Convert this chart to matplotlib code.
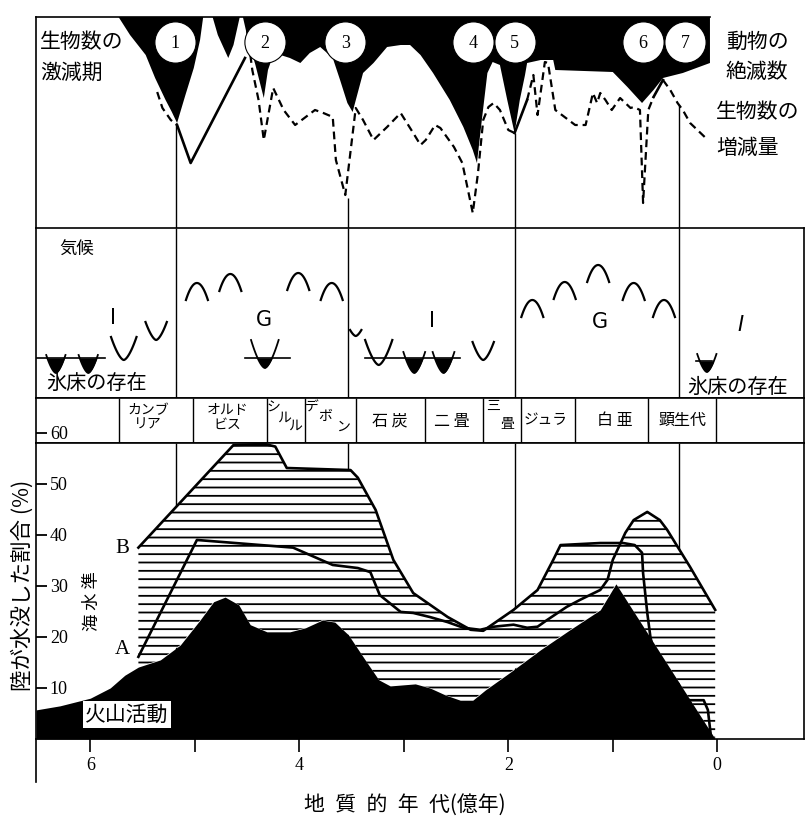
import numpy as np
import matplotlib.pyplot as plt

plt.rcParams['font.family'] = ['Noto Sans CJK JP', 'DejaVu Sans']
plt.rcParams['hatch.linewidth'] = 1.3
plt.rcParams['hatch.color'] = 'black'
SERIF = ['Liberation Serif', 'DejaVu Serif']

# ─── データ ───────────────────────────────────────────────────────────────
# 横軸は地質年代 (億年前)
X_LEFT, X_RIGHT = 6.52, -0.83

# 上段: 動物の絶滅数 (上から垂れ下がる黒い部分, 縦は 0-211 の相対値)
ext_age = [5.73, 5.62, 5.47, 5.38, 5.28, 5.22, 5.17, 5.09, 5.01, 4.95, 4.92,
           4.83, 4.78, 4.68, 4.63, 4.57, 4.54, 4.49, 4.42, 4.34, 4.30, 4.26,
           4.18, 4.09, 3.99, 3.90, 3.80, 3.68, 3.61, 3.54, 3.49, 3.39, 3.29,
           3.16, 3.03, 2.94, 2.84, 2.72, 2.56, 2.43, 2.34, 2.30, 2.25, 2.20,
           2.15, 2.08, 2.01, 1.94, 1.89, 1.84, 1.82, 1.69, 1.57, 1.55, 1.00,
           0.86, 0.72, 0.61, 0.52, 0.33, 0.07, 0.07]
ext_level = [211, 193, 173, 150, 128, 116, 105, 133, 160, 188, 211,
             211, 193, 170, 183, 211, 211, 188, 163, 130, 158, 170,
             173, 170, 165, 175, 181, 170, 148, 125, 116, 155, 165,
             181, 183, 183, 173, 155, 128, 101, 78, 65, 111, 155,
             166, 163, 128, 95, 128, 153, 165, 168, 168, 158, 156,
             141, 125, 138, 150, 155, 165, 211]

# 生物数の激減期 1-7
event_age = [5.19, 4.33, 3.56, 2.34, 1.94, 0.71, 0.31]
event_no = ['1', '2', '3', '4', '5', '6', '7']

# 生物数の増減量 (破線部と実線部)
dash1_age = [5.36, 5.31, 5.23, 5.17]
dash1_lv = [136, 120, 108, 103]
solid1_age = [5.17, 5.04, 4.52]
solid1_lv = [103, 65, 170]
dash2_age = [4.50, 4.45, 4.39, 4.34, 4.25, 4.15, 4.04, 3.85, 3.77, 3.68,
             3.65, 3.56, 3.46, 3.39, 3.29, 3.16, 3.03, 2.91, 2.84, 2.79,
             2.70, 2.65, 2.52, 2.44, 2.34, 2.29, 2.24, 2.19, 2.14, 2.08,
             2.00, 1.94]
dash2_lv = [198, 158, 128, 88, 140, 118, 103, 118, 115, 111,
            68, 33, 120, 108, 88, 101, 115, 95, 83, 88,
            103, 100, 81, 65, 15, 55, 108, 121, 125, 118,
            98, 95]
solid2_age = [1.94, 1.82]
solid2_lv = [95, 128]
dash3_age = [1.82, 1.76, 1.72, 1.65, 1.62, 1.55, 1.36, 1.26, 1.19, 1.15,
             1.12, 1.07, 1.01, 0.93, 0.83, 0.80, 0.74, 0.71, 0.66, 0.61]
dash3_lv = [128, 153, 113, 166, 165, 118, 103, 103, 135, 125,
            135, 128, 118, 130, 120, 121, 118, 25, 118, 131]
solid3_age = [0.61, 0.52]
solid3_lv = [131, 148]
dash4_age = [0.52, 0.45, 0.38, 0.33, 0.26, 0.12]
dash4_lv = [148, 138, 125, 118, 105, 91]

# 時代の境界を示す縦線
guide_age = [5.18, 3.53, 1.94, 0.37]
guide_top = [105, 30, 95, 123]

# 中段: 気候 (温暖 ∩ / 寒冷 U)
warm_age = [4.98, 4.66, 4.01, 3.69, 1.77, 1.46, 1.14, 0.80, 0.51]
warm_top = [115, 124, 125, 115, 98, 116, 133, 115, 98]
cold_age = [5.68, 5.37, 3.46, 3.24, 2.24]
cold_top = [61, 76, 68, 58, 56]
cold_bottom = [38, 58, 62, 33, 38]
regime_age = [5.78, 4.34, 2.73, 1.12, -0.22]
regime_lv = [80, 78, 77, 76, 73]
regime = ['I', 'G', 'I', 'G', 'I']

# 氷床の存在
ice_line_from = [6.51, 4.52, 3.37, 0.20]
ice_line_to = [5.86, 4.09, 2.46, 0.05]
ice_line_lv = [40, 40, 40, 37]
ice_age = [6.33, 6.02, 4.33, 2.90, 2.62, 0.10]
ice_top = [43, 43, 58, 46, 46, 44]
ice_bottom = [25, 25, 30, 25, 25, 26]
ice_ref = [40, 40, 40, 40, 40, 37]

# 地質時代区分
period_bounds = [5.73, 5.02, 4.31, 3.95, 3.46, 2.80, 2.24, 1.88, 1.36, 0.66, 0.01]

# 下段: 陸が水没した割合 (%)
volc_age = [6.52, 6.29, 6.00, 5.81, 5.67, 5.54, 5.33, 5.14, 4.95, 4.82,
            4.71, 4.58, 4.47, 4.31, 4.09, 3.94, 3.78, 3.66, 3.53, 3.37,
            3.24, 3.13, 2.89, 2.75, 2.60, 2.46, 2.34, 2.22, 1.98, 1.69,
            1.41, 1.12, 0.97, 0.02]
volc_pct = [5.7, 6.5, 8.0, 10.0, 12.5, 14.1, 15.5, 18.4, 23.3, 26.9,
            27.8, 26.3, 22.4, 21.0, 21.0, 21.8, 23.3, 22.9, 20.4, 15.5,
            11.6, 10.4, 10.8, 10.0, 8.6, 7.6, 7.6, 9.6, 13.1, 17.5,
            21.4, 25.3, 30.4, 0.0]
a_age = [5.54, 4.98, 4.06, 3.68, 3.44, 3.32, 3.23, 3.03, 2.91, 2.75,
         2.58, 2.43, 2.27, 2.14, 1.95, 1.82, 1.72, 1.63, 1.44, 1.31,
         1.12, 1.05, 1.00, 0.88, 0.80, 0.67, 0.55, 0.48, 0.26, 0.02]
a_pct = [16.1, 39.0, 37.5, 34.1, 33.5, 32.7, 28.2, 24.9, 24.7, 23.9,
         22.9, 21.8, 21.4, 22.0, 22.4, 21.8, 22.0, 23.3, 25.9, 27.3,
         29.2, 31.2, 35.1, 40.4, 42.9, 44.5, 42.9, 41.0, 33.7, 25.3]
b_age = [5.54, 4.63, 4.33, 4.23, 4.12, 3.51, 3.44, 3.27, 3.10, 2.91,
         2.58, 2.36, 2.24, 1.95, 1.72, 1.57, 1.50, 1.12, 0.90, 0.79,
         0.72, 0.71, 0.67, 0.64, 0.55, 0.43, 0.26, 0.13, 0.09, 0.06]
b_pct = [37.5, 57.6, 57.8, 57.3, 53.1, 52.7, 51.2, 44.9, 35.1, 28.6,
         23.9, 21.4, 21.2, 25.3, 29.2, 35.1, 38.0, 38.4, 38.4, 38.0,
         36.5, 32.5, 24.7, 20.0, 11.6, 8.2, 7.6, 7.6, 5.7, 0.4]
BOT_TOP = 58.0

# ─── レイアウト ───────────────────────────────────────────────────────────
W, H = 807, 818
fig = plt.figure(figsize=(W / 100, H / 100), dpi=100)


def add_panel(top, bottom):
    return fig.add_axes([36 / W, 1 - bottom / H, (804 - 36) / W, (bottom - top) / H])


ax_top = add_panel(17, 228)
ax_mid = add_panel(228, 398)
ax_per = add_panel(398, 443)
ax_bot = add_panel(443, 739)

for ax in (ax_top, ax_mid, ax_per, ax_bot):
    ax.set_xlim(X_LEFT, X_RIGHT)
    for sp in ax.spines.values():
        sp.set_linewidth(1.2)
    ax.tick_params(bottom=False, labelbottom=False, left=False, labelleft=False)

LW = 1.6
JP = dict(fontsize=15, color='black')

# ─── 上段 ─────────────────────────────────────────────────────────────────
ax_top.set_ylim(0, 211)
ax_top.spines['top'].set_visible(False)
ax_top.spines['right'].set_visible(False)
ax_top.spines['bottom'].set_visible(False)
ax_top.plot([X_LEFT, ext_age[-1]], [211, 211], color='black', lw=1.2, clip_on=False)
ax_top.fill(ext_age, ext_level, color='black', lw=0, zorder=3)
ax_top.vlines(guide_age, 0, guide_top, color='black', lw=1.0, zorder=1)

dash = (0, (3.5, 2.2))
for ag, lv in [(dash1_age, dash1_lv), (dash2_age, dash2_lv),
               (dash3_age, dash3_lv), (dash4_age, dash4_lv)]:
    ax_top.plot(ag, lv, color='black', lw=LW, ls=dash, zorder=2)
for ag, lv in [(solid1_age, solid1_lv), (solid2_age, solid2_lv), (solid3_age, solid3_lv)]:
    ax_top.plot(ag, lv, color='black', lw=LW + 0.3, zorder=2)

ax_top.scatter(event_age, [186] * len(event_age), s=880, facecolor='white',
               edgecolor='black', lw=0.8, zorder=5)
for ag, no in zip(event_age, event_no):
    ax_top.text(ag, 185, no, ha='center', va='center', fontsize=13,
                family=SERIF, zorder=6)

ax_top.text(6.48, 186, '生物数の', ha='left', va='center', **JP)
ax_top.text(6.48, 155, '激減期', ha='left', va='center', **JP)
ax_top.text(-0.08, 186, '動物の', ha='left', va='center', **JP)
ax_top.text(-0.08, 156, '絶滅数', ha='left', va='center', **JP)
ax_top.text(0.01, 116, '生物数の', ha='left', va='center', **JP)
ax_top.text(0.01, 80, '増減量', ha='left', va='center', **JP)

# ─── 中段: 気候 ───────────────────────────────────────────────────────────
ax_mid.set_ylim(0, 170)
ax_mid.vlines(guide_age, 0, 170, color='black', lw=1.0)

t = np.linspace(-1, 1, 41)
for ag, top in zip(warm_age, warm_top):
    ax_mid.plot(ag + t * 0.105, top - 17 * t ** 2, color='black', lw=LW)
for ag, top, bot in zip(cold_age, cold_top, cold_bottom):
    half = 0.03 + 0.004 * (top - bot)
    ax_mid.plot(ag + t * half, bot + (top - bot) * np.abs(t) ** 1.6,
                color='black', lw=LW)
for x0, x1, lv in zip(ice_line_from, ice_line_to, ice_line_lv):
    ax_mid.plot([x0, x1], [lv, lv], color='black', lw=1.2)
for ag, top, bot, ref in zip(ice_age, ice_top, ice_bottom, ice_ref):
    half = 0.02 + 0.004 * (top - bot)
    xs = ag + t * half
    ys = bot + (top - bot) * np.abs(t) ** 1.6
    ax_mid.plot(xs, ys, color='black', lw=1.3)
    ax_mid.fill_between(xs, ys, np.minimum(ref, top), where=ys <= ref,
                        color='black', lw=0)
for ag, lv, s in zip(regime_age, regime_lv, regime):
    ax_mid.text(ag, lv, s, ha='center', va='center', fontsize=15,
                family='DejaVu Sans', style='italic' if ag < 0 else 'normal')

ax_mid.text(6.13, 148, '気候', ha='center', va='center', fontsize=12.5)
ax_mid.text(5.94, 15, '氷床の存在', ha='center', va='center', fontsize=14.5)
ax_mid.text(-0.19, 11, '氷床の存在', ha='center', va='center', fontsize=14.5)

# ─── 時代区分 ─────────────────────────────────────────────────────────────
ax_per.set_ylim(BOT_TOP, BOT_TOP + 45 / 5.1)
ax_per.vlines(period_bounds, BOT_TOP, BOT_TOP + 45 / 5.1, color='black', lw=1.0)
PER = dict(ha='center', va='center', fontsize=10, linespacing=1.05)
ax_per.text(5.45, 63.0, 'カンブ\nリア', **PER)
ax_per.text(4.69, 63.0, 'オルド\nビス', **PER)
for ag, lv, ch in [(4.25, 64.9, 'シ'), (4.15, 62.9, 'ル'), (4.04, 61.3, 'ル'),
                   (3.88, 64.9, 'デ'), (3.75, 63.3, 'ボ'), (3.58, 61.2, 'ン'),
                   (2.15, 65.3, '三'), (2.01, 61.8, '畳')]:
    ax_per.text(ag, lv, ch, ha='center', va='center', fontsize=10)
ax_per.text(3.13, 62.3, '石 炭', ha='center', va='center', fontsize=11.5)
ax_per.text(2.54, 62.3, '二 畳', ha='center', va='center', fontsize=11.5)
ax_per.text(1.64, 62.5, 'ジュラ', ha='center', va='center', fontsize=10.5)
ax_per.text(0.98, 62.5, '白 亜', ha='center', va='center', fontsize=11.5)
ax_per.text(0.33, 62.5, '顕生代', ha='center', va='center', fontsize=11.5)

# ─── 下段: 海水準と火山活動 ───────────────────────────────────────────────
ax_bot.set_ylim(0, BOT_TOP)
ax_bot.vlines(guide_age, 0, BOT_TOP, color='black', lw=1.0, zorder=1)

xs = np.union1d(np.union1d(a_age, b_age), volc_age)
xs = xs[(xs >= a_age[-1]) & (xs <= a_age[0])]
upper = np.maximum(np.interp(xs, a_age[::-1], a_pct[::-1]),
                   np.interp(xs, b_age[::-1], b_pct[::-1]))
lower = np.interp(xs, volc_age[::-1], volc_pct[::-1])
ax_bot.fill_between(xs, lower, upper, facecolor='white', edgecolor='black',
                    hatch='--', lw=0, zorder=2)
ax_bot.plot(a_age, a_pct, color='black', lw=1.9, zorder=3)
ax_bot.plot(b_age, b_pct, color='black', lw=1.9, zorder=3)
ax_bot.fill_between(volc_age, 0, volc_pct, color='black', lw=0, zorder=4)

ax_bot.text(5.69, 37.3, 'B', ha='center', va='center', fontsize=15, family=SERIF)
ax_bot.text(5.69, 17.5, 'A', ha='center', va='center', fontsize=15, family=SERIF)
ax_bot.text(5.98, 27.0, '海 水 準', ha='center', va='center', fontsize=12.5,
            rotation=90)
ax_bot.text(5.65, 4.8, '火山活動', ha='center', va='center', fontsize=15, zorder=6,
            bbox=dict(facecolor='white', edgecolor='none', pad=1.5))

# 縦軸 (目盛りは内向き, 数字も枠の内側)
for ax, ticks in ((ax_bot, [10, 20, 30, 40, 50]), (ax_per, [60])):
    ax.set_yticks(ticks)
    ax.set_yticklabels([str(v) for v in ticks])
    ax.tick_params(axis='y', left=True, labelleft=True, direction='in',
                   length=8, width=1.3, pad=-10, labelsize=13)
    for lab in ax.get_yticklabels():
        lab.set_horizontalalignment('left')
        lab.set_family(SERIF)

# 横軸
ax_bot.set_xticks([6, 4, 2, 0])
ax_bot.set_xticks([5, 3, 1], minor=True)
ax_bot.tick_params(axis='x', which='both', bottom=True, direction='out',
                   length=9, width=1.2)
ax_bot.tick_params(axis='x', which='major', labelbottom=True, labelsize=13, pad=4)
for lab in ax_bot.get_xticklabels():
    lab.set_family(SERIF)
ax_bot.plot([X_LEFT, X_LEFT], [0, -8.5], color='black', lw=1.2, clip_on=False)

fig.text(405 / W, 1 - 805 / H, '地\u2002質\u2002的\u2002年\u2002代(億年)',
         ha='center', va='center', fontsize=15)
fig.text(23 / W, 1 - 585 / H, '陸が水没した割合 (%)', ha='center', va='center',
         fontsize=15.5, rotation=90)

fig.savefig('out.png', dpi=100, facecolor='white')
